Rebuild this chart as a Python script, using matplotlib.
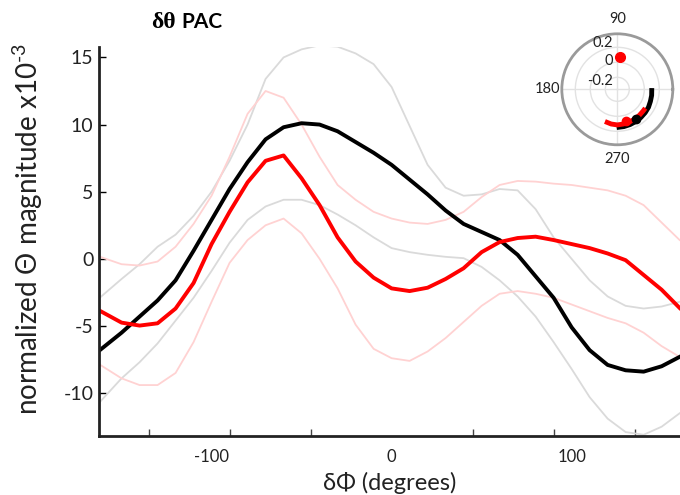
import numpy as np
import matplotlib.pyplot as plt

plt.rcParams['font.family'] = ['Lato', 'DejaVu Sans']
plt.rcParams['mathtext.fontset'] = 'custom'
plt.rcParams['mathtext.rm'] = 'Lato'

# phase difference bins (degrees)
dphi = np.array([-163, -150, -140, -130, -120, -110, -100, -90, -80, -70, -60,
                 -50, -40, -30, -20, -10, 0, 10, 20, 30, 40, 50, 60, 70, 80,
                 90, 100, 110, 120, 130, 140, 150, 160])

# black condition: mean and +/- error (x1e-3)
black_mean = [-6.9, -5.5, -4.3, -3.1, -1.6, 0.6, 2.9, 5.2, 7.2, 8.9, 9.8,
              10.1, 10.0, 9.5, 8.7, 7.9, 7.0, 5.9, 4.8, 3.6, 2.6, 2.0, 1.4,
              0.3, -1.3, -2.9, -5.1, -6.8, -7.9, -8.3, -8.4, -8.0, -7.3]
black_hi = [-3.0, -1.5, -0.4, 0.9, 1.8, 3.2, 5.0, 7.3, 10.0, 13.4, 15.0,
            15.6, 15.9, 15.8, 15.3, 14.5, 12.8, 9.9, 7.0, 5.3, 4.7, 4.8, 5.2,
            5.1, 3.7, 1.6, 0.0, -1.6, -2.8, -3.5, -3.7, -3.55, -3.2]
black_lo = [-10.8, -8.9, -7.7, -6.3, -4.6, -2.9, -0.9, 1.2, 2.9, 3.9, 4.4,
            4.4, 4.0, 3.3, 2.5, 1.6, 0.8, 0.5, 0.3, 0.15, 0.05, -0.6, -1.6,
            -2.8, -4.3, -6.2, -8.2, -10.3, -11.9, -12.9, -13.1, -12.5, -11.5]

# red condition
red_mean = [-3.8, -4.75, -4.97, -4.8, -3.7, -1.8, 1.1, 3.5, 5.7, 7.3, 7.7,
            6.0, 4.0, 1.6, -0.2, -1.4, -2.2, -2.4, -2.15, -1.5, -0.7, 0.5,
            1.25, 1.55, 1.65, 1.4, 1.1, 0.8, 0.4, -0.1, -1.2, -2.3, -3.66]
red_hi = [0.2, -0.4, -0.5, -0.2, 0.9, 2.6, 4.7, 7.6, 10.8, 12.5, 12.0,
          10.0, 7.6, 5.5, 4.4, 3.5, 3.0, 2.7, 2.6, 2.9, 3.5, 4.6, 5.5, 5.8,
          5.75, 5.6, 5.5, 5.3, 5.1, 4.7, 4.0, 2.7, 1.4]
red_lo = [-7.8, -8.9, -9.4, -9.4, -8.5, -6.2, -3.2, -0.3, 1.4, 2.5, 3.0,
          1.9, 0.0, -2.2, -4.9, -6.7, -7.4, -7.6, -6.9, -5.9, -4.7, -3.5,
          -2.6, -2.4, -2.6, -2.9, -3.4, -3.9, -4.4, -4.8, -5.5, -6.5, -7.3]

# polar inset (degrees, radius)
black_arc_theta = [2, -10, -20, -30, -40, -50, -60, -70, -80, -91]
black_arc_r = [0.10, 0.105, 0.11, 0.12, 0.125, 0.13, 0.135, 0.14, 0.145, 0.15]
red_arc_theta = [-34, -40, -50, -60, -70, -80, -90, -100, -111]
red_arc_r = [0.09, 0.09, 0.095, 0.10, 0.105, 0.11, 0.115, 0.11, 0.10]
red_dot = (85, 0.075)
red_dot2 = (-75, 0.08)
black_dot = (-57, 0.11)
r_ticks = [0.2, 0, -0.2]
r_labels = ['0.2', '0', '-0.2']

fig = plt.figure(figsize=(6.8, 4.95), dpi=100)
ax = fig.add_axes([0.1454, 0.119, 0.8546, 0.7867])

gray = '#dadada'
pink = '#ffd2d2'
ax.plot(dphi, black_hi, color=gray, lw=1.3)
ax.plot(dphi, black_lo, color=gray, lw=1.3)
ax.plot(dphi, red_hi, color=pink, lw=1.3)
ax.plot(dphi, red_lo, color=pink, lw=1.3)
ax.plot(dphi, black_mean, color='black', lw=2.8)
ax.plot(dphi, red_mean, color='#ff0000', lw=2.8)

ax.set_xlim(-162.6, 160.2)
ax.set_ylim(-13.2, 15.8)
for s in ['top', 'right']:
    ax.spines[s].set_visible(False)
for s in ['left', 'bottom']:
    ax.spines[s].set_linewidth(2)
    ax.spines[s].set_color('#222222')

ax.set_yticks([-10, -5, 0, 5, 10, 15])
ax.set_yticklabels(['-10', '-5', '0', '5', '10', '15'], fontsize=14, color='#222222')
ax.tick_params(axis='y', direction='in', length=5, width=1, pad=4)
ax.set_xticks([-100, 0, 100])
ax.set_xticklabels(['-100', '0', '100'], fontsize=12, color='#222222')
ax.set_xticks([-135, -90, -45, 0, 45, 90, 135], minor=True)
ax.tick_params(axis='x', which='major', length=0, pad=9)
ax.tick_params(axis='x', which='minor', direction='in', length=5, width=1, color='#444444')

ax.set_xlabel('δΦ (degrees)', fontsize=17, color='#222222', labelpad=5)
fig.text(0.04, 0.537, 'normalized Θ magnitude x10$^{\\text{-3}}$', rotation=90,
         ha='center', va='center', fontsize=20, color='#222222')
fig.text(0.222, 0.955, 'δθ', fontsize=17, fontweight='bold',
         family=['Liberation Serif', 'DejaVu Serif'], ha='left', va='center')
fig.text(0.267, 0.955, 'PAC', fontsize=15, fontweight='bold', ha='left', va='center')

# polar inset
pax = fig.add_axes([0.8262, 0.7075, 0.1632, 0.2242], projection='polar')
pax.set_ylim(-0.36, 0.38)
pax.set_yticks(r_ticks)
pax.set_yticklabels([])
pax.set_xticks(np.radians([0, 90, 180, 270]))
pax.set_xticklabels(['0', '90', '180', '270'], fontsize=10.5, color='#222222')
pax.tick_params(axis='x', pad=0)
pax.grid(color='#e2e2e2', lw=1)
pax.spines['polar'].set_color('#9a9a9a')
pax.spines['polar'].set_linewidth(2)
for rv, lab, dy in zip(r_ticks, r_labels, [3, 1, -3]):
    pax.annotate(lab, xy=(np.pi / 2, rv), xytext=(-3, dy), textcoords='offset points',
                 ha='right', va='center', fontsize=10.5, color='#222222')

pax.plot(np.radians(black_arc_theta), black_arc_r, color='black', lw=3.5, solid_capstyle='butt')
pax.plot(np.radians(red_arc_theta), red_arc_r, color='#ff0000', lw=3.5, solid_capstyle='butt')
pax.plot(np.radians(black_dot[0]), black_dot[1], 'o', color='black', ms=6)
pax.plot(np.radians(red_dot2[0]), red_dot2[1], 'o', color='#ff0000', ms=6)
pax.plot(np.radians(red_dot[0]), red_dot[1], 'o', color='#ff0000', ms=7)

fig.savefig('out.png', dpi=100)
